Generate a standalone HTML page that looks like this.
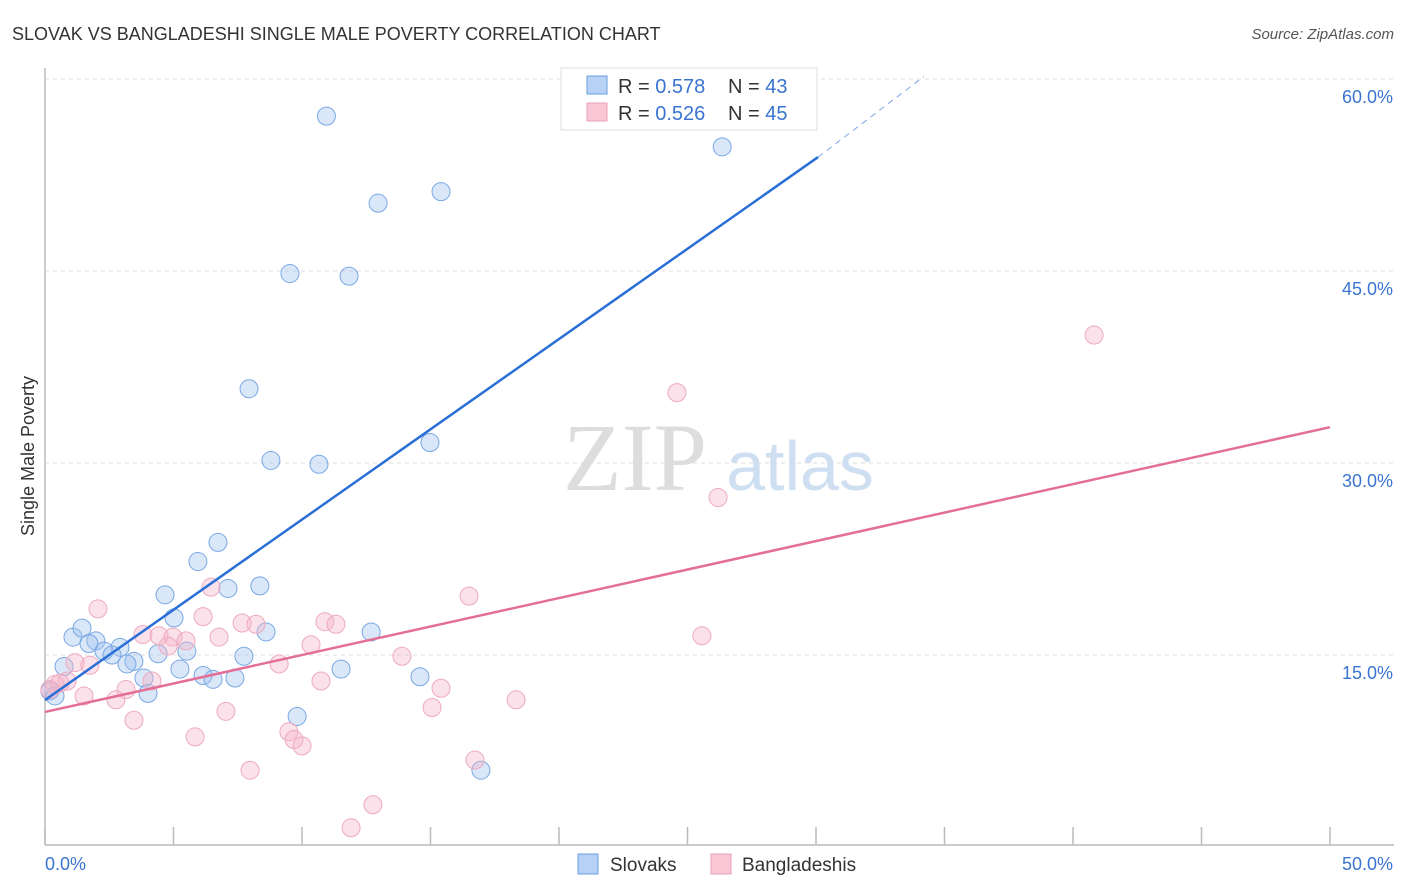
<!DOCTYPE html>
<html><head><meta charset="utf-8"><style>
body{margin:0;background:#fff;font-family:"Liberation Sans",sans-serif;}
svg{display:block}
</style></head><body>
<svg width="1406" height="892" xmlns="http://www.w3.org/2000/svg">
<text x="12" y="40" font-size="18" fill="#333">SLOVAK VS BANGLADESHI SINGLE MALE POVERTY CORRELATION CHART</text>
<text x="1394" y="39" font-size="15" fill="#555" font-style="italic" text-anchor="end">Source: ZipAtlas.com</text>
<g id="grid"></g>
<text x="635" y="490" font-size="96" fill="#ddd" font-family="Liberation Serif,serif" text-anchor="middle">ZIP</text>
<text x="800" y="490" font-size="70" fill="#cfdff2" text-anchor="middle">atlas</text>
<g id="axes"></g>
<g id="pts"></g>
<g id="lines"></g>
<text x="34" y="456" font-size="18" fill="#333" text-anchor="middle" transform="rotate(-90 34 456)">Single Male Poverty</text>
<g>
<rect x="561" y="68" width="256" height="62" fill="#fff" stroke="#ddd"/>
<rect x="587" y="76" width="20" height="18" fill="#b8d2f5" stroke="#6a9ee0"/>
<text x="618" y="93" font-size="20" fill="#333">R = <tspan fill="#3b74d0">0.578</tspan></text>
<text x="728" y="93" font-size="20" fill="#333">N = <tspan fill="#3b74d0">43</tspan></text>
<rect x="587" y="103" width="20" height="18" fill="#f8c6d4" stroke="#eaa0b8"/>
<text x="618" y="120" font-size="20" fill="#333">R = <tspan fill="#3b74d0">0.526</tspan></text>
<text x="728" y="120" font-size="20" fill="#333">N = <tspan fill="#3b74d0">45</tspan></text>
</g>
<g>
<rect x="578" y="854" width="20" height="20" fill="#b8d2f5" stroke="#6a9ee0"/>
<text x="610" y="871" font-size="19" fill="#333">Slovaks</text>
<rect x="711" y="854" width="20" height="20" fill="#f8c6d4" stroke="#eaa0b8"/>
<text x="742" y="871" font-size="19" fill="#333">Bangladeshis</text>
</g>
</svg>
<script>
const blueX=[10.95,26.35,12.96,15.41,9.53,11.83,7.94,14.98,8.79,10.66,6.73,5.95,8.36,7.12,4.67,5.02,8.6,12.69,1.09,1.44,1.98,1.71,2.92,2.3,2.61,4.4,5.52,7.74,3.46,3.19,0.74,5.25,11.52,3.85,6.15,6.54,7.39,14.59,4.01,9.81,16.96,0.19,0.39];
const blueY=[57.1,54.7,50.3,51.2,44.8,44.6,35.8,31.6,30.2,29.9,23.8,22.3,20.4,20.2,19.7,17.9,16.8,16.8,16.4,17.1,16.1,15.9,15.6,15.3,15.0,15.1,15.3,14.9,14.5,14.3,14.1,13.9,13.9,13.2,13.4,13.1,13.2,13.3,12.0,10.2,6.0,12.2,11.8];
const pinkX=[40.82,24.59,26.19,16.5,25.56,2.06,6.46,6.15,7.67,8.21,10.89,11.32,6.77,3.81,4.44,4.98,5.49,4.79,10.35,1.17,1.75,9.11,13.89,0.86,4.16,3.15,10.74,15.41,1.52,2.76,15.06,18.33,3.46,7.04,5.84,9.49,9.69,10.0,16.73,7.98,12.76,11.91,0.39,0.19,0.58];
const pinkY=[40.0,35.5,27.3,19.6,16.5,18.6,20.3,18.0,17.5,17.4,17.6,17.4,16.4,16.6,16.5,16.4,16.1,15.7,15.8,14.4,14.2,14.3,14.9,12.97,12.97,12.3,12.97,12.4,11.8,11.5,10.9,11.5,9.9,10.6,8.6,9.0,8.4,7.9,6.8,6.0,3.3,1.5,12.7,12.3,12.8];
const blueFit=[[0,11.48],[30.08,53.9]], blueDash=[[30.08,53.9],[34.2,60.2]], pinkFit=[[0,10.55],[50,32.8]];
const yTicks=[15,30,45,60];
const NS='http://www.w3.org/2000/svg';
const sx=v=>45+v*25.7, sy=v=>847-v*12.8;
function mk(tag,attrs,parent){const e=document.createElementNS(NS,tag);for(const k in attrs)e.setAttribute(k,attrs[k]);document.getElementById(parent).appendChild(e);return e;}
yTicks.forEach(t=>{
 const l=mk('line',{x1:45,x2:1394,y1:sy(t),y2:sy(t),stroke:'#ddd','stroke-dasharray':'4,4'},'grid');
 
 
 const tx=mk('text',{x:1393,y:sy(t)+24,'font-size':18,fill:'#3b74d0','text-anchor':'end'},'grid');
 tx.textContent=t.toFixed(1)+'%';
 
 
});
let a=mk('line',{x1:45,x2:45,y1:68,y2:845,stroke:'#bbb','stroke-width':1.5},'axes');


a=mk('line',{x1:45,x2:1394,y1:845,y2:845,stroke:'#bbb','stroke-width':1.5},'axes');


for(let i=0;i<=10;i++){const t=mk('line',{x1:sx(i*5),x2:sx(i*5),y1:827,y2:845,stroke:'#bbb','stroke-width':1.5},'axes');
 
 }
let xl=mk('text',{x:45,y:870,'font-size':18,fill:'#3b74d0'},'axes');xl.textContent='0.0%';


xl=mk('text',{x:1393,y:870,'font-size':18,fill:'#3b74d0','text-anchor':'end'},'axes');xl.textContent='50.0%';


blueX.forEach((x,i)=>{const c=mk('circle',{cx:sx(x),cy:sy(blueY[i]),r:9,fill:'rgba(160,195,240,0.4)',stroke:'#7aa8e4','stroke-width':1},'pts');
 
 });
pinkX.forEach((x,i)=>{const c=mk('circle',{cx:sx(x),cy:sy(pinkY[i]),r:9,fill:'rgba(245,180,200,0.4)',stroke:'#eeaac0','stroke-width':1},'pts');
 
 });
let L=mk('line',{x1:sx(blueFit[0][0]),y1:sy(blueFit[0][1]),x2:sx(blueFit[1][0]),y2:sy(blueFit[1][1]),stroke:'#2a6fd6','stroke-width':2.5},'lines');


L=mk('line',{x1:sx(blueDash[0][0]),y1:sy(blueDash[0][1]),x2:sx(blueDash[1][0]),y2:sy(blueDash[1][1]),stroke:'#8fb3e8','stroke-width':1.2,'stroke-dasharray':'6,5'},'lines');


L=mk('line',{x1:sx(pinkFit[0][0]),y1:sy(pinkFit[0][1]),x2:sx(pinkFit[1][0]),y2:sy(pinkFit[1][1]),stroke:'#e46f96','stroke-width':2.5},'lines');


</script>
</body></html>
